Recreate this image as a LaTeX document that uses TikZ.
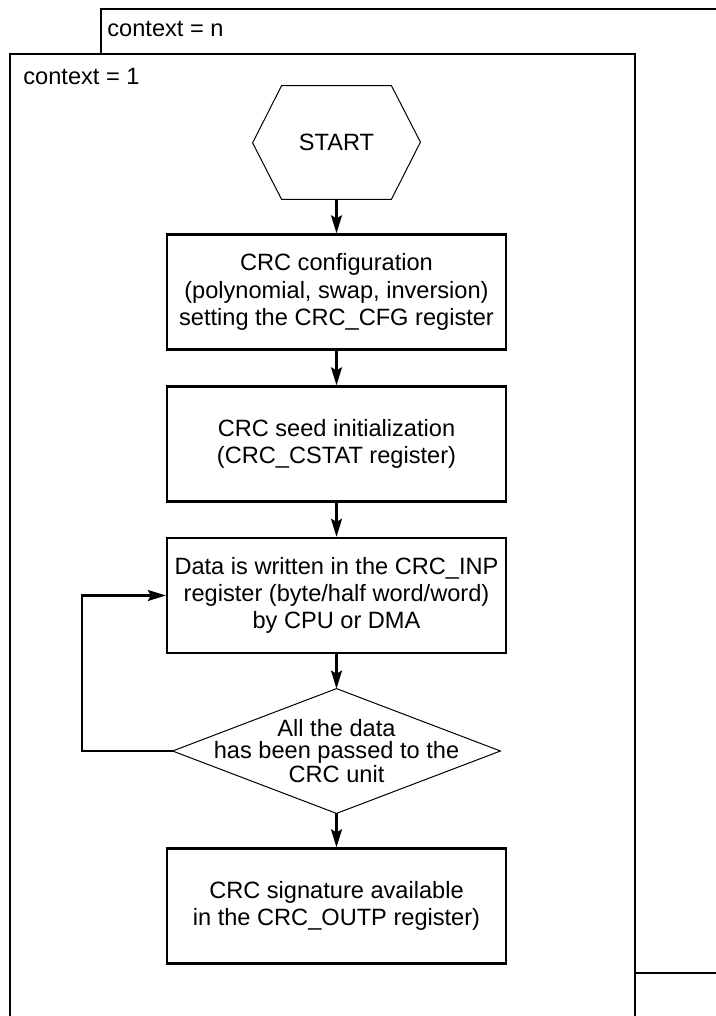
\documentclass[tikz,border=0pt]{standalone}
\usepackage{fontspec}
\setmainfont{Liberation Sans}
\usetikzlibrary{arrows.meta}

\begin{document}
\begin{tikzpicture}[x=0.5pt,y=-0.5pt,
  every node/.style={font=\fontsize{11.8}{13.6}\selectfont},
  ctxframe/.style={draw,line width=1.2pt,fill=white},
  stepbox/.style={draw,line width=1.2pt,minimum width=169.5pt,minimum height=57.5pt,align=center,inner sep=0pt},
  hexnode/.style={minimum width=54.5pt,minimum height=56.5pt,inner sep=0pt},
  decision/.style={minimum width=163.5pt,minimum height=62pt,inner sep=0pt,align=center,
    font=\fontsize{11.8}{10.8}\selectfont},
  thinline/.style={line width=0.5pt,line join=miter},
  flow/.style={line width=1.1pt,-{Stealth[length=9pt,width=5.5pt,inset=1.5pt]}}]
  \useasboundingbox (0,0) rectangle (716,1016);
  \clip (0,0) rectangle (716,1016);
  % the two context frames
  \draw[ctxframe] (101,9) rectangle (740,973);
  \node[anchor=west,inner sep=0pt] (ctxn) at (107,29) {context = n};
  \draw[ctxframe] (10,54) rectangle (635,1040);
  \node[anchor=west,inner sep=0pt] (ctxone) at (23,77) {context = 1};
  % flow
  \node[hexnode] (start) at (336.5,142.5) {START};
  \draw[thinline] (start.north west) -- (start.north east) -- ++(29,56.5)
    -- (start.south east) -- (start.south west) -- ++(-29,-56.5) -- cycle;
  \node[stepbox] (cfg) at (336.5,292) {CRC configuration\\(polynomial, swap, inversion)\\setting the CRC\_CFG register};
  \node[stepbox] (seed) at (336.5,444) {CRC seed initialization\\(CRC\_CSTAT register)};
  \node[stepbox] (inp) at (336.5,595.5) {Data is written in the CRC\_INP\\register (byte/half word/word)\\by CPU or DMA};
  \node[decision] (dec) at (336.5,751) {All the data\\has been passed to the\\CRC unit};
  \draw[thinline] (dec.north) -- (dec.east) -- (dec.south) -- (dec.west) -- cycle;
  \node[stepbox] (outp) at (336.5,906) {CRC signature available\\in the CRC\_OUTP register)};
  \draw[flow] (start.south) -- (cfg.north);
  \draw[flow] (cfg.south) -- (seed.north);
  \draw[flow] (seed.south) -- (inp.north);
  \draw[flow] (inp.south) -- (dec.north);
  \draw[flow] (dec.south) -- (outp.north);
  \draw[flow] (dec.west) -- ++(-91,0) |- (inp.west);
\end{tikzpicture}
\end{document}
